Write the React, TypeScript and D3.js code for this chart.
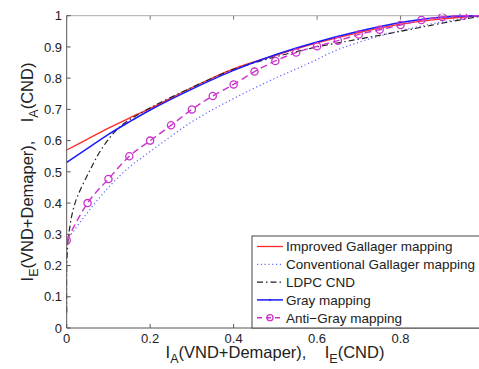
import React from "react";
import { scaleLinear, line, curveMonotoneX, curveCatmullRom, range } from "d3";

// curves (x = I_A(VND+Demapper) / I_E(CND), y = I_E / I_A)
const improvedX = [0, 0.05, 0.1, 0.15, 0.2, 0.3, 0.4, 0.5, 0.6, 0.7, 0.8, 0.9, 1.0];
const improvedY = [0.57, 0.605, 0.64, 0.672, 0.703, 0.77, 0.83, 0.873, 0.913, 0.946, 0.973, 0.99, 1.0];

const conventionalX = [0, 0.05, 0.1, 0.15, 0.2, 0.3, 0.4, 0.44, 0.5, 0.6, 0.63, 0.7, 0.8, 0.9, 1.0];
const conventionalY = [0.28, 0.37, 0.45, 0.515, 0.565, 0.66, 0.735, 0.762, 0.8, 0.86, 0.88, 0.915, 0.952, 0.98, 1.0];

const ldpcX = [0, 0, 0.005, 0.02, 0.056, 0.087, 0.128, 0.2, 0.3, 0.4, 0.5, 0.6, 0.7, 0.8, 0.9, 1.0];
const ldpcY = [0.05, 0.2, 0.3, 0.4, 0.506, 0.58, 0.645, 0.705, 0.77, 0.828, 0.868, 0.9, 0.925, 0.95, 0.976, 1.0];

const grayX = [0, 0.05, 0.1, 0.15, 0.2, 0.3, 0.4, 0.5, 0.6, 0.7, 0.8, 0.9, 1.0];
const grayY = [0.53, 0.575, 0.62, 0.66, 0.698, 0.765, 0.825, 0.875, 0.916, 0.95, 0.978, 0.995, 1.0];

const antiGrayX = [0, 0.05, 0.1, 0.15, 0.2, 0.25, 0.3, 0.35, 0.4, 0.45, 0.5, 0.55, 0.6, 0.65, 0.7, 0.75, 0.8, 0.85, 0.9, 0.95, 1.0];
const antiGrayY = [0.28, 0.4, 0.477, 0.55, 0.6, 0.649, 0.7, 0.743, 0.78, 0.821, 0.855, 0.882, 0.902, 0.92, 0.94, 0.955, 0.97, 0.986, 0.996, 1.0, 1.0];

const xTicks = [0, 0.2, 0.4, 0.6, 0.8];
const yTicks = range(0, 11).map(d => d / 10);

const legendLabels = [
  "Improved Gallager mapping",
  "Conventional Gallager mapping",
  "LDPC CND",
  "Gray mapping",
  "Anti\u2212Gray mapping",
];

const W = 479, H = 369;
const left = 66.7, top = 15.7, plotRight = 484, plotBottom = 328;

const zip = (xs: number[], ys: number[]) => xs.map((x, i) => [x, ys[i]] as [number, number]);

function App() {
  const x = scaleLinear().domain([0, 1]).range([left, plotRight]);
  const y = scaleLinear().domain([0, 1]).range([plotBottom, top]);

  const mk = (c: any) => line<[number, number]>().x(d => x(d[0])).y(d => y(d[1])).curve(c);

  const series = [
    { pts: zip(improvedX, improvedY), color: "#ff2a2a", dash: "none", w: 1.3, curve: curveMonotoneX },
    { pts: zip(conventionalX, conventionalY), color: "#6b6bff", dash: "1.2 2.6", w: 1.3, curve: curveMonotoneX },
    { pts: zip(ldpcX, ldpcY), color: "#222", dash: "6 3 1.5 3", w: 1.2, curve: curveCatmullRom },
    { pts: zip(grayX, grayY), color: "#1a1aff", dash: "none", w: 1.5, curve: curveMonotoneX },
    { pts: zip(antiGrayX, antiGrayY), color: "#cc33cc", dash: "7 4", w: 1.4, curve: curveMonotoneX },
  ];

  const lgX = 252, lgY = 236, lgRow = 17.8;

  return (
    <div style={{ position: "absolute", left: 0, top: 0 }}>
      <svg width={W} height={H} style={{ fontFamily: "Arial, 'Liberation Sans', sans-serif" }}>
        <rect width={W} height={H} fill="#fff" />
        <defs>
          <clipPath id="plot">
            <rect x={left} y={top - 2} width={plotRight - left} height={plotBottom - top + 4} />
          </clipPath>
        </defs>

        {/* frame */}
        <line x1={left} x2={plotRight} y1={top} y2={top} stroke="#aaa" strokeWidth={1} />
        <line x1={left} x2={plotRight} y1={plotBottom} y2={plotBottom} stroke="#555" strokeWidth={1} />
        <line x1={left} x2={left} y1={top} y2={plotBottom} stroke="#555" strokeWidth={1} />

        {xTicks.map(t => (
          <g key={"x" + t}>
            <line x1={x(t)} x2={x(t)} y1={plotBottom} y2={plotBottom - 4} stroke="#555" />
            <line x1={x(t)} x2={x(t)} y1={top} y2={top + 4} stroke="#777" />
            <text x={x(t)} y={342.5} fontSize={13} textAnchor="middle" fill="#222">{String(t)}</text>
          </g>
        ))}
        {yTicks.map(t => (
          <g key={"y" + t}>
            <line x1={left} x2={left + 4} y1={y(t)} y2={y(t)} stroke="#555" />
            <text x={62} y={y(t)} dy="0.36em" fontSize={13} textAnchor="end" fill="#222">{String(t)}</text>
          </g>
        ))}

        <g clipPath="url(#plot)">
          {series.map((s, i) => (
            <path key={i} d={mk(s.curve)(s.pts) || ""} fill="none" stroke={s.color}
              strokeWidth={s.w} strokeDasharray={s.dash} />
          ))}
          {series[4].pts.map((p, i) => (
            <circle key={i} cx={x(p[0])} cy={y(p[1])} r={3.6} fill="none" stroke="#cc33cc" strokeWidth={1.3} />
          ))}
        </g>

        {/* legend */}
        <rect x={lgX} y={lgY} width={W - lgX + 10} height={plotBottom - lgY} fill="#fff" stroke="#444" strokeWidth={1} />
        {legendLabels.map((lab, i) => {
          const cy = lgY + 10.5 + i * lgRow;
          const s = series[i];
          return (
            <g key={lab}>
              <line x1={257} x2={283} y1={cy} y2={cy} stroke={s.color} strokeWidth={s.w}
                strokeDasharray={i === 4 ? "5 4" : s.dash} />
              {i === 3 && <circle cx={270} cy={cy} r={1} fill={s.color} />}
              {i === 4 && <circle cx={270} cy={cy} r={3} fill="none" stroke={s.color} strokeWidth={1.3} />}
              <text x={286} y={cy} dy="0.36em" fontSize={13.5} fill="#222">{lab}</text>
            </g>
          );
        })}

        {/* axis labels */}
        <text x={275} y={358} fontSize={16.5} textAnchor="middle" fill="#222" style={{ whiteSpace: "pre" }}>
          <tspan>I</tspan><tspan dy={5} fontSize={12.5}>A</tspan><tspan dy={-5}>(VND+Demaper),    I</tspan>
          <tspan dy={5} fontSize={12.5}>E</tspan><tspan dy={-5}>(CND)</tspan>
        </text>
        <text transform="translate(33,172) rotate(-90)" fontSize={16.5} textAnchor="middle" fill="#222" style={{ whiteSpace: "pre" }}>
          <tspan>I</tspan><tspan dy={5} fontSize={12.5}>E</tspan><tspan dy={-5}>(VND+Demaper),    I</tspan>
          <tspan dy={5} fontSize={12.5}>A</tspan><tspan dy={-5}>(CND)</tspan>
        </text>
      </svg>
    </div>
  );
}

export default App;
